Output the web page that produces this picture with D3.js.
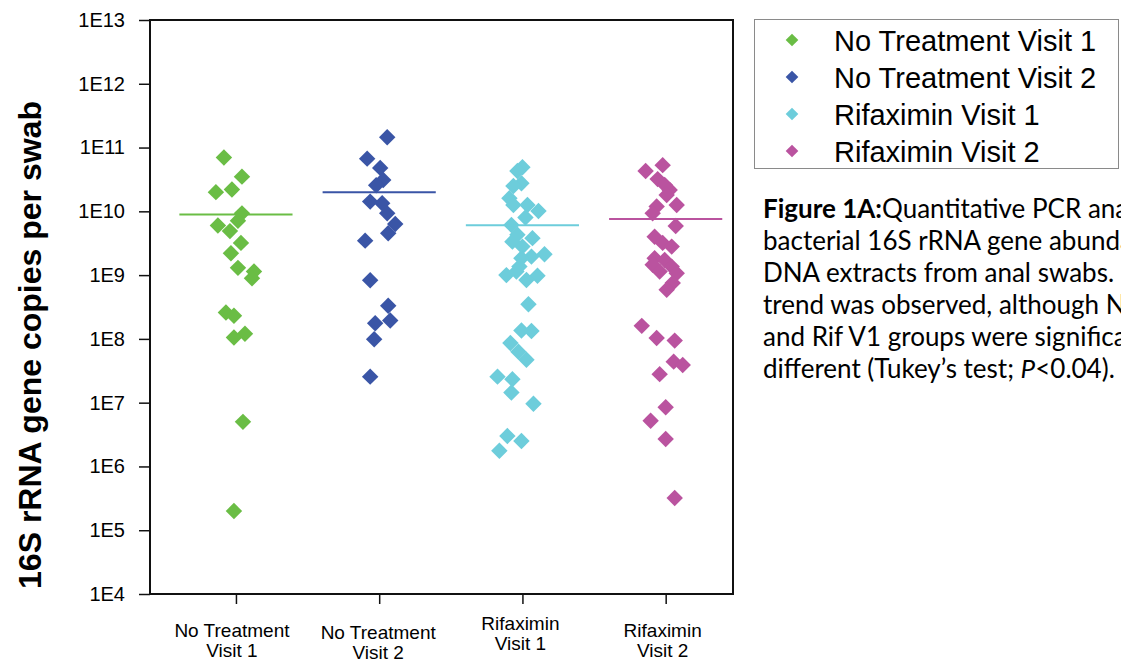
<!DOCTYPE html>
<html>
<head>
<meta charset="utf-8">
<script src="https://cdn.jsdelivr.net/npm/d3@7"></script>
<style>
    html, body { margin: 0; padding: 0; background: #fff; }
    svg text { font-family: "Liberation Sans", Arial, sans-serif; fill: #000; }
    .caption text { font-family: Lato, "Open Sans", sans-serif; }
</style>
</head>
<body>
<div id="myChart"></div>
<script>
// groups shown on the x axis
var categories = ["No Treatment Visit 1", "No Treatment Visit 2", "Rifaximin Visit 1", "Rifaximin Visit 2"];
var categoryLabels = [["No Treatment", "Visit 1"], ["No Treatment", "Visit 2"], ["Rifaximin", "Visit 1"], ["Rifaximin", "Visit 2"]];

// 16S copies per swab
var noTreatV1 = [7.0e10, 3.5e10, 2.0e10, 2.2e10, 9.3e9, 7.1e9, 6.0e9, 4.9e9, 3.2e9, 2.2e9, 1.3e9, 1.14e9, 8.9e8, 2.6e8, 2.3e8, 1.2e8, 1.05e8, 5.0e6, 2.0e5];
var noTreatV2 = [1.45e11, 6.7e10, 4.8e10, 3.1e10, 2.56e10, 1.42e10, 1.34e10, 9.3e9, 6.35e9, 4.54e9, 3.47e9, 8.3e8, 3.3e8, 1.94e8, 1.76e8, 9.9e7, 2.56e7];
var rifV1 = [4.9e10, 4.3e10, 2.75e10, 2.5e10, 1.6e10, 1.26e10, 1.26e10, 1.01e10, 8.0e9, 6.1e9, 4.3e9, 3.8e9, 3.35e9, 2.8e9, 2.13e9, 1.95e9, 1.84e9, 1.36e9, 1.14e9, 1.0e9, 9.8e8, 8.4e8, 3.5e8, 1.35e8, 1.33e8, 8.6e7, 6.3e7, 4.7e7, 2.56e7, 2.33e7, 1.44e7, 9.6e6, 3.0e6, 2.5e6, 1.76e6];
var rifV2 = [5.3e10, 4.3e10, 3.2e10, 2.6e10, 2.16e10, 1.8e10, 1.26e10, 1.19e10, 9.3e9, 5.9e9, 4.0e9, 3.2e9, 2.8e9, 1.84e9, 1.73e9, 1.45e9, 1.36e9, 1.14e9, 1.07e9, 7.5e8, 5.9e8, 1.6e8, 1.03e8, 9.4e7, 4.4e7, 3.9e7, 2.8e7, 8.5e6, 5.2e6, 2.7e6, 3.2e5];

// horizontal scatter of each point, in category units
var noTreatV1Jitter = [-0.084, 0.042, -0.14, -0.028, 0.042, 0.014, -0.126, -0.042, 0.035, -0.035, 0.014, 0.126, 0.112, -0.07, -0.014, 0.063, -0.014, 0.049, -0.014];
var noTreatV2Jitter = [0.056, -0.084, 0.007, 0.028, -0.021, -0.063, 0.021, 0.056, 0.112, 0.063, -0.098, -0.063, 0.063, 0.077, -0.028, -0.035, -0.063];
var rifV1Jitter = [0, -0.035, -0.007, -0.063, -0.091, -0.063, 0.035, 0.112, 0.021, -0.077, -0.035, 0.07, -0.07, 0, 0.154, 0.063, -0.007, -0.021, -0.042, -0.112, 0.105, 0.028, 0.042, -0.007, 0.063, -0.084, -0.028, 0.028, -0.174, -0.07, -0.077, 0.077, -0.105, -0.007, -0.161];
var rifV2Jitter = [-0.021, -0.14, -0.056, -0.007, 0.028, 0.007, 0.077, -0.063, -0.091, 0.07, -0.077, -0.021, 0.042, -0.077, -0.007, -0.091, 0.042, -0.042, 0.077, 0.049, 0.007, -0.167, -0.063, 0.063, 0.056, 0.119, -0.042, 0, -0.105, 0, 0.063];

var groupMeans = [8.9e9, 2.0e10, 6.05e9, 7.6e9];
var yTickValues = [1e4, 1e5, 1e6, 1e7, 1e8, 1e9, 1e10, 1e11, 1e12, 1e13];

var captionLines = [
    [{ t: "Figure 1A:", b: true }, { t: "Quantitative PCR analysis of" }],
    [{ t: "bacterial 16S rRNA gene abundance in" }],
    [{ t: "DNA extracts from anal swabs. No" }],
    [{ t: "trend was observed, although NT V2" }],
    [{ t: "and Rif V1 groups were significantly" }],
    [{ t: "different (Tukey\u2019s test; " }, { t: "P", i: true }, { t: "<0.04)." }]
];

var colors = ["#6abd45", "#3a55a6", "#6dcddb", "#ba539f"];
var series = [
    { values: noTreatV1, jitter: noTreatV1Jitter },
    { values: noTreatV2, jitter: noTreatV2Jitter },
    { values: rifV1, jitter: rifV1Jitter },
    { values: rifV2, jitter: rifV2Jitter }
];

var width = 1121, height = 662;
var plot = { left: 150, right: 733, top: 20, bottom: 594 };

var svg = d3.select("#myChart").append("svg")
    .attr("width", width)
    .attr("height", height);

svg.append("rect").attr("width", width).attr("height", height).attr("fill", "#fff");

var x = d3.scaleLinear().domain([-0.6, 3.47]).range([plot.left, plot.right]);
var y = d3.scaleLog().domain([1e4, 1e13]).range([plot.bottom, plot.top]);

// frame
svg.append("rect")
    .attr("x", plot.left)
    .attr("y", plot.top)
    .attr("width", plot.right - plot.left)
    .attr("height", plot.bottom - plot.top)
    .attr("fill", "none")
    .attr("stroke", "#111")
    .attr("stroke-width", 2);

var yAxis = d3.axisLeft(y)
    .tickValues(yTickValues)
    .tickFormat(function (d) { return "1E" + Math.round(Math.log10(d)); })
    .tickSize(11)
    .tickSizeOuter(0)
    .tickPadding(14);

var gy = svg.append("g")
    .attr("transform", "translate(" + plot.left + ",0)")
    .call(yAxis);
gy.attr("font-size", null).attr("font-family", null);
gy.select(".domain").remove();
gy.selectAll("line").attr("stroke", "#111").attr("stroke-width", 1.5);
gy.selectAll("text").style("font-size", "20px").attr("fill", "#000");

var xAxis = d3.axisBottom(x)
    .tickValues(d3.range(categories.length))
    .tickSize(10)
    .tickSizeOuter(0)
    .tickFormat("");

var gx = svg.append("g")
    .attr("transform", "translate(0," + plot.bottom + ")")
    .call(xAxis);
gx.select(".domain").remove();
gx.selectAll("line").attr("stroke", "#111").attr("stroke-width", 1.5);

// category labels, two lines each (the original sits them at slightly different heights)
var labelBase = [637, 639, 630, 637];
var labelShift = [-4, -1, -2, -3];
categoryLabels.forEach(function (lines, i) {
    var t = svg.append("text")
        .attr("x", x(i) + labelShift[i])
        .attr("y", labelBase[i])
        .attr("text-anchor", "middle")
        .style("font-size", "19px");
    lines.forEach(function (line, j) {
        t.append("tspan")
            .attr("x", x(i) + labelShift[i])
            .attr("dy", j === 0 ? 0 : 20)
            .text(line);
    });
});

// y title
svg.append("text")
    .attr("transform", "translate(30,345) rotate(-90)")
    .attr("dy", "0.35em")
    .attr("text-anchor", "middle")
    .style("font-size", "32px")
    .attr("font-weight", "bold")
    .text("16S rRNA gene copies per swab");

var diamond = d3.symbol().type(d3.symbolSquare).size(135);

series.forEach(function (s, i) {
    var pts = s.values.map(function (v, k) { return { v: v, j: s.jitter[k] }; });
    svg.append("g")
        .selectAll("path")
        .data(pts)
        .join("path")
        .attr("d", diamond)
        .attr("transform", function (d) { return "translate(" + x(i + d.j) + "," + y(d.v) + ") rotate(45)"; })
        .attr("fill", colors[i]);

    svg.append("line")
        .attr("x1", x(i - 0.395))
        .attr("x2", x(i + 0.395))
        .attr("y1", y(groupMeans[i]))
        .attr("y2", y(groupMeans[i]))
        .attr("stroke", colors[i])
        .attr("stroke-width", 2);
});

// legend
var legend = svg.append("g");
legend.append("rect")
    .attr("x", 754.5)
    .attr("y", 19.5)
    .attr("width", 364)
    .attr("height", 149)
    .attr("fill", "#fff")
    .attr("stroke", "#8a8a8a")
    .attr("stroke-width", 1);

var legendSym = d3.symbol().type(d3.symbolSquare).size(80);
categories.forEach(function (c, i) {
    var ly = 51 + i * 37;
    legend.append("path")
        .attr("d", legendSym)
        .attr("transform", "translate(792," + (ly - 11) + ") rotate(45)")
        .attr("fill", colors[i]);
    legend.append("text")
        .attr("x", 834)
        .attr("y", ly)
        .style("font-size", "29px")
        .text(c);
});

// caption
var cap = svg.append("g").attr("class", "caption");
captionLines.forEach(function (parts, i) {
    var t = cap.append("text")
        .attr("x", 763)
        .attr("y", 218 + i * 32)
        .style("font-size", "26px");
    parts.forEach(function (p) {
        t.append("tspan")
            .attr("font-weight", p.b ? "bold" : null)
            .attr("font-style", p.i ? "italic" : null)
            .text(p.t);
    });
});
</script>
</body>
</html>
